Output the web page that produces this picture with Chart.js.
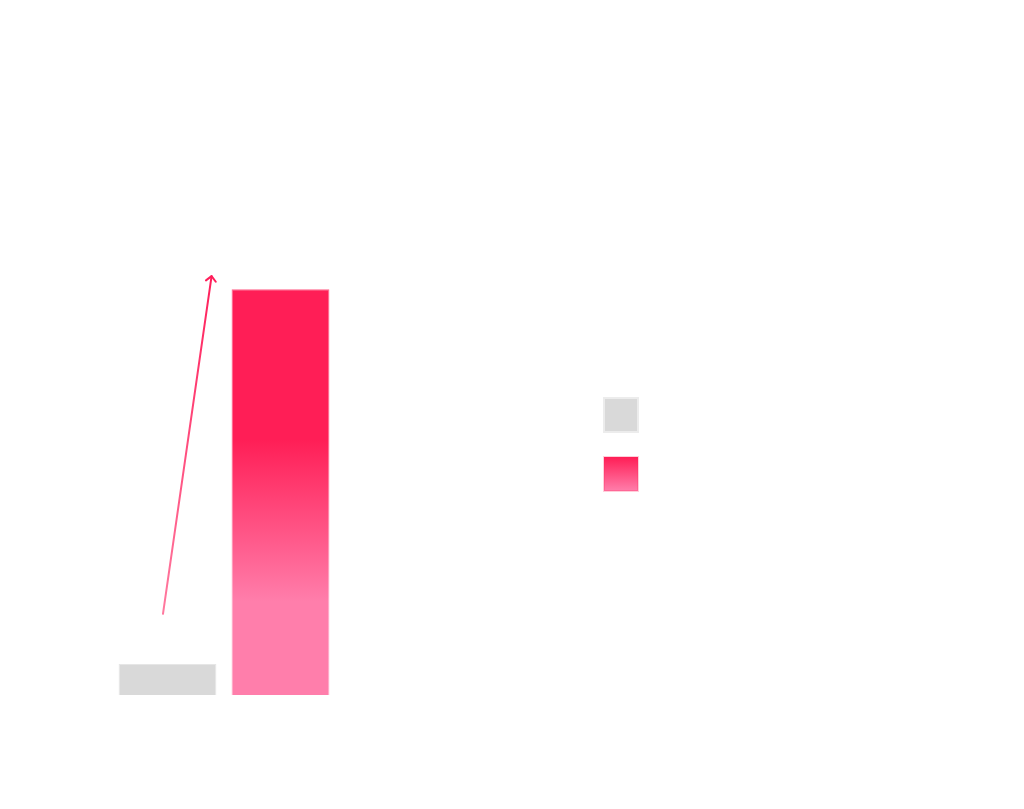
<!DOCTYPE html>
<html>
<head>
<meta charset="utf-8">
<script src="https://cdn.jsdelivr.net/npm/chart.js@4"></script>
<style>
  html, body { margin: 0; padding: 0; background: #ffffff; }
  #wrap { width: 1024px; height: 809px; }
</style>
</head>
<body>
<div id="wrap"><canvas id="growthChart"></canvas></div>
<script>
// chart data
var categories = ["Before", "After"];
var seriesNames = ["Before", "After"];
var beforeValues = [6.2, null];
var afterValues = [null, 81];
var valueRange = [0, 100];

// colours
var grayFill = "#d9d9d9";
var grayEdge = "#e6e6e6";
var pinkTop = "#ff1e56";
var pinkBottom = "#ff7eab";

function pinkGradient(context, alpha) {
    var chart = context.chart;
    var area = chart.chartArea;
    if (!area || context.raw == null) {
        return pinkTop;
    }
    var yScale = chart.scales.y;
    var top = yScale.getPixelForValue(context.raw);
    var base = yScale.getPixelForValue(0);
    var g = chart.ctx.createLinearGradient(0, top + (base - top) * 0.37, 0, top + (base - top) * 0.77);
    g.addColorStop(0, "rgba(255,30,86," + alpha + ")");
    g.addColorStop(1, "rgba(255,126,171," + alpha + ")");
    return g;
}

// legend swatch for the pink series runs its own top-to-bottom fade
var legendSwatch = {
    id: "legendSwatch",
    afterUpdate: function(chart) {
        var legend = chart.legend;
        if (!legend || !legend.legendHitBoxes || legend.legendHitBoxes.length < 2) {
            return;
        }
        var box = legend.legendHitBoxes[1];
        var g = chart.ctx.createLinearGradient(0, box.top, 0, box.top + box.height);
        g.addColorStop(0, pinkTop);
        g.addColorStop(1, pinkBottom);
        legend.legendItems[1].fillStyle = g;
        legend.legendItems[1].strokeStyle = "rgba(255,30,86,0.22)";
        legend.legendItems[0].strokeStyle = "#ececec";
    }
};

var growthArrow = {
    id: "growthArrow",
    afterDatasetsDraw: function(chart, args, opts) {
        var xs = chart.scales.x;
        var ys = chart.scales.y;
        var c = chart.ctx;
        var x0 = xs.getPixelForValue(opts.from[0]);
        var y0 = ys.getPixelForValue(opts.from[1]);
        var x1 = xs.getPixelForValue(opts.to[0]);
        var y1 = ys.getPixelForValue(opts.to[1]);

        var g = c.createLinearGradient(x0, y0, x1, y1);
        g.addColorStop(0, "rgba(255,40,100,0.62)");
        g.addColorStop(1, "rgba(255,30,90,1)");

        c.save();
        c.strokeStyle = g;
        c.lineWidth = 2;
        c.lineCap = "round";
        c.lineJoin = "round";
        c.beginPath();
        c.moveTo(x0, y0);
        c.lineTo(x1, y1);
        c.stroke();

        var ang = Math.atan2(y1 - y0, x1 - x0);
        var len = 7;
        var spread = Math.PI / 4;
        c.strokeStyle = "#ff1e5a";
        c.beginPath();
        c.moveTo(x1 - len * Math.cos(ang - spread), y1 - len * Math.sin(ang - spread));
        c.lineTo(x1, y1);
        c.lineTo(x1 - len * Math.cos(ang + spread), y1 - len * Math.sin(ang + spread));
        c.stroke();
        c.restore();
    }
};

function makeChart() {
    var canvas = document.getElementById("growthChart");
    new Chart(canvas, {
        type: "bar",
        data: {
            labels: categories,
            datasets: [{
                label: seriesNames[0],
                data: beforeValues,
                backgroundColor: grayFill,
                borderColor: grayEdge,
                borderWidth: 1
            }, {
                label: seriesNames[1],
                data: afterValues,
                backgroundColor: function(ctx) { return pinkGradient(ctx, 1); },
                borderColor: function(ctx) { return pinkGradient(ctx, 0.7); },
                borderWidth: 1
            }]
        },
        options: {
            responsive: true,
            maintainAspectRatio: false,
            animation: false,
            layout: {
                padding: { left: 111, top: 194, bottom: 114, right: 370 }
            },
            datasets: {
                bar: {
                    grouped: false,
                    categoryPercentage: 1,
                    barPercentage: 0.866
                }
            },
            scales: {
                x: { display: false },
                y: { display: false, min: valueRange[0], max: valueRange[1] },
                // empty space between the bars and the legend
                gap: {
                    type: "linear",
                    axis: "y",
                    position: "right",
                    grid: { display: false, drawTicks: false },
                    border: { display: false },
                    ticks: { display: false },
                    afterFit: function(scale) { scale.width = 242; }
                }
            },
            plugins: {
                tooltip: { enabled: false },
                legend: {
                    position: "right",
                    labels: {
                        boxWidth: 34,
                        boxHeight: 34,
                        padding: 25,
                        font: { size: 12 },
                        generateLabels: function(chart) {
                            var items = Chart.defaults.plugins.legend.labels.generateLabels(chart);
                            items.forEach(function(item) {
                                item.text = "";
                                item.lineWidth = 2;
                            });
                            return items;
                        }
                    }
                },
                growthArrow: {
                    from: [-0.04, 16.2],
                    to: [0.39, 83.6]
                }
            }
        },
        plugins: [legendSwatch, growthArrow]
    });
}

makeChart();
</script>
</body>
</html>
